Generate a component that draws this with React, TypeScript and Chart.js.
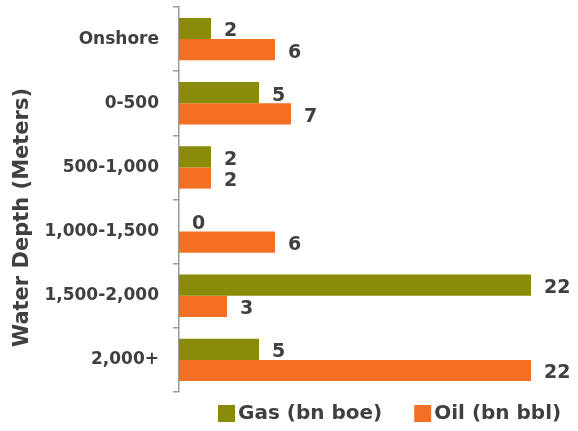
import React, { useEffect, useRef } from "react";
import { Chart, registerables } from "chart.js";

Chart.register(...registerables);

const categories = ["Onshore", "0-500", "500-1,000", "1,000-1,500", "1,500-2,000", "2,000+"];
const gasValues = [2, 5, 2, 0, 22, 5];
const oilValues = [6, 7, 2, 6, 3, 22];
const seriesNames = ["Gas (bn boe)", "Oil (bn bbl)"];
const axisTitle = "Water Depth (Meters)";

const GAS = "#8a8a0b";
const OIL = "#f36f24";
const TEXT = "#404040";
const FONT = "'DejaVu Sans', sans-serif";

const valueLabels = {
  id: "valueLabels",
  afterDatasetsDraw(chart: any) {
    const ctx = chart.ctx;
    ctx.save();
    ctx.font = `bold 19px ${FONT}`;
    ctx.fillStyle = TEXT;
    ctx.textBaseline = "middle";
    ctx.textAlign = "left";
    chart.data.datasets.forEach((ds: any, i: number) => {
      const meta = chart.getDatasetMeta(i);
      meta.data.forEach((el: any, j: number) => {
        ctx.fillText(String(ds.data[j]), el.x + 13, el.y + 3);
      });
    });
    ctx.restore();
  },
};

const extras = {
  id: "extras",
  afterDraw(chart: any) {
    const ctx = chart.ctx;
    const area = chart.chartArea;
    ctx.save();
    // axis title
    ctx.font = `bold 21px ${FONT}`;
    ctx.fillStyle = TEXT;
    ctx.textAlign = "center";
    ctx.textBaseline = "middle";
    ctx.translate(23, (area.top + area.bottom) / 2 + 18);
    ctx.rotate(-Math.PI / 2);
    ctx.fillText(axisTitle, 0, 0);
    ctx.restore();

    // legend
    ctx.save();
    ctx.font = `bold 20px ${FONT}`;
    ctx.textBaseline = "middle";
    ctx.textAlign = "left";
    let x = area.left + 39;
    const y = area.bottom + 21;
    chart.data.datasets.forEach((ds: any) => {
      ctx.fillStyle = ds.backgroundColor;
      ctx.fillRect(x, y - 8, 17, 17);
      ctx.fillStyle = TEXT;
      ctx.fillText(ds.label, x + 20, y + 1);
      x += 20 + ctx.measureText(ds.label).width + 32;
    });
    ctx.restore();
  },
};

export default function App() {
  const ref = useRef<HTMLCanvasElement>(null);
  useEffect(() => {
    const chart = new Chart(ref.current!, {
      type: "bar",
      data: {
        labels: categories,
        datasets: [
          { label: seriesNames[0], data: gasValues, backgroundColor: GAS, barPercentage: 1, categoryPercentage: 0.66 },
          { label: seriesNames[1], data: oilValues, backgroundColor: OIL, barPercentage: 1, categoryPercentage: 0.66 },
        ],
      },
      options: {
        indexAxis: "y",
        animation: false,
        responsive: false,
        maintainAspectRatio: false,
        layout: { padding: { top: 7, right: 15, left: 0, bottom: 39 } },
        scales: {
          x: { display: false, min: 0, max: 24 },
          y: {
            afterFit: (s: any) => { s.width = 179; s.paddingTop = 0; s.paddingBottom = 0; },
            border: { color: "#9a9a9a", width: 1.5 },
            grid: { drawOnChartArea: false, drawTicks: true, tickLength: 6, color: "#9a9a9a", lineWidth: 1.5 },
            ticks: { color: TEXT, font: { family: FONT, size: 17, weight: "bold" }, padding: 14 },
          },
        },
        plugins: {
          tooltip: { enabled: false },
          legend: { display: false },
        },
      },
      plugins: [valueLabels, extras],
    });
    return () => chart.destroy();
  }, []);
  return (
    <div style={{ position: "fixed", left: 0, top: 0, width: 578, height: 431, background: "#fff" }}>
      <canvas ref={ref} width={578} height={431} style={{ width: 578, height: 431 }} />
    </div>
  );
}
